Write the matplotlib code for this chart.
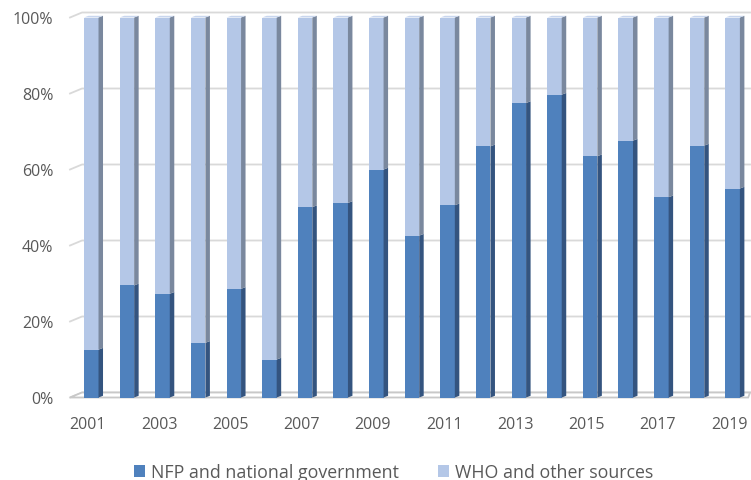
import matplotlib.pyplot as plt
from matplotlib.patches import Polygon, Patch

years = list(range(2001, 2020))
nfp_share = [12.6, 29.5, 27.3, 14.4, 28.6, 10.0, 50.1, 51.2, 60.0, 42.6,
             50.6, 66.1, 77.5, 79.7, 63.5, 67.6, 52.7, 66.3, 55.0]
who_share = [100 - v for v in nfp_share]
tick_years = [2001, 2003, 2005, 2007, 2009, 2011, 2013, 2015, 2017, 2019]
y_ticks = [0, 20, 40, 60, 80, 100]
series_names = ["NFP and national government", "WHO and other sources"]

# front, side, top colours
nfp_colors = ["#4F81BD", "#34547F", "#6A95CB"]
who_colors = ["#B4C7E7", "#7A889E", "#C8D6EE"]

plt.rcParams['font.family'] = ['Open Sans', 'DejaVu Sans']
text_color = "#595959"
grid_color = "#D9D9D9"

fig = plt.figure(figsize=(7.51, 4.81), dpi=100)
# front plane: x from 70px to 747px, 0% at 398.5px, 100% at 18.5px
ax = fig.add_axes([70/751, (481-398.5)/481, 677/751, 380/481])
ax.set_xlim(-0.5, 18.5)
ax.set_ylim(0, 100)

px_x = 677/19.0   # pixels per category
px_y = 3.8        # pixels per percent

# 3d depth offsets
wall_dx, wall_dy = 12/px_x, 5/px_y
bar_dx, bar_dy = 4.5/px_x, 1.7/px_y
bar_left = -3.8/px_x
bar_w = 14.5/px_x
right_end = 18.5 + 3/px_x

# back wall gridlines
for v in y_ticks:
    ax.plot([-0.5, -0.5 + wall_dx, right_end], [v, v + wall_dy, v + wall_dy],
            color=grid_color, lw=1.3, clip_on=False, zorder=1)

# floor
floor = Polygon([(-0.5, 0), (-0.5 + wall_dx, wall_dy), (right_end, wall_dy), (right_end - 0.05, 0)],
                closed=True, facecolor="white", edgecolor="#C8C8C8", lw=1.3, clip_on=False, zorder=1)
ax.add_patch(floor)


def draw_bar(x, y0, h, colors):
    x0 = x + bar_left
    x1 = x0 + bar_w
    y1 = y0 + h
    front = Polygon([(x0, y0), (x1, y0), (x1, y1), (x0, y1)], closed=True,
                    facecolor=colors[0], edgecolor="none", clip_on=False, zorder=3)
    side = Polygon([(x1, y0), (x1 + bar_dx, y0 + bar_dy), (x1 + bar_dx, y1 + bar_dy), (x1, y1)],
                   closed=True, facecolor=colors[1], edgecolor="none", clip_on=False, zorder=3)
    ax.add_patch(front)
    ax.add_patch(side)
    return x0, x1, y1


for i in range(len(years)):
    draw_bar(i, 0, nfp_share[i], nfp_colors)
    x0, x1, y1 = draw_bar(i, nfp_share[i], who_share[i], who_colors)
    top = Polygon([(x0, y1), (x1, y1), (x1 + bar_dx, y1 + bar_dy), (x0 + bar_dx, y1 + bar_dy)],
                  closed=True, facecolor=who_colors[2], edgecolor="none", clip_on=False, zorder=3)
    ax.add_patch(top)

for s in ax.spines.values():
    s.set_visible(False)

ax.set_xticks([years.index(y) for y in tick_years])
ax.set_xticklabels([str(y) for y in tick_years])
ax.set_yticks(y_ticks)
ax.set_yticklabels([str(v) + "%" for v in y_ticks])
ax.tick_params(axis='x', length=0, pad=13, labelsize=11.5, colors=text_color)
ax.tick_params(axis='y', length=0, pad=12, labelsize=11.5, colors=text_color)

handles = [Patch(facecolor=nfp_colors[0], edgecolor="none"),
           Patch(facecolor=who_colors[0], edgecolor="none")]
fig.legend(handles, series_names, loc='center', bbox_to_anchor=(0.524, 8/481), ncol=2,
           frameon=False, fontsize=12.8, labelcolor=text_color, handlelength=0.62,
           handleheight=0.62, handletextpad=0.32, columnspacing=2.2)

plt.savefig("out.png", dpi=100)
